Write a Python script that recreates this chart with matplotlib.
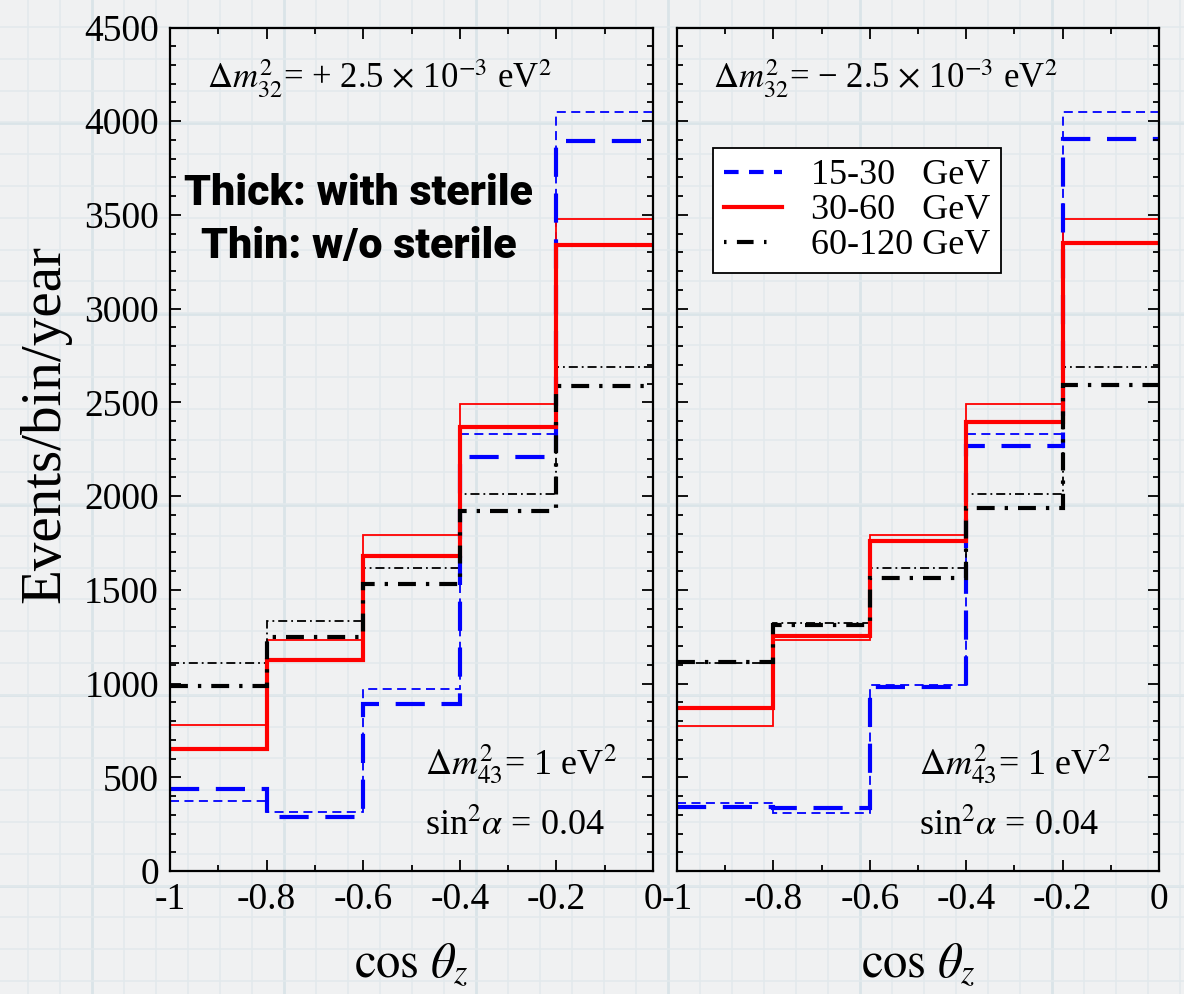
import matplotlib.pyplot as plt
import matplotlib.ticker as mtick
from matplotlib.lines import Line2D

plt.rcParams['font.family'] = ['Liberation Serif', 'DejaVu Serif']
plt.rcParams['mathtext.fontset'] = 'stix'
plt.rcParams['axes.unicode_minus'] = False

# bin edges in cos(theta_z)
edges = [-1.0, -0.8, -0.6, -0.4, -0.2, 0.0]
xtick_vals = [-1.0, -0.8, -0.6, -0.4, -0.2, 0.0]
xtick_labels = ['-1', '-0.8', '-0.6', '-0.4', '-0.2', '0']

# left panel: dm32^2 = +2.5e-3 eV^2 (thick = with sterile, thin = w/o sterile)
nh_15_30_thick = [440, 290, 890, 2210, 3895]
nh_15_30_thin = [375, 315, 970, 2330, 4050]
nh_30_60_thick = [650, 1125, 1680, 2370, 3340]
nh_30_60_thin = [780, 1235, 1795, 2490, 3480]
nh_60_120_thick = [985, 1250, 1530, 1920, 2590]
nh_60_120_thin = [1110, 1335, 1615, 2010, 2690]

# right panel: dm32^2 = -2.5e-3 eV^2
ih_15_30_thick = [340, 335, 980, 2265, 3905]
ih_15_30_thin = [365, 310, 990, 2330, 4050]
ih_30_60_thick = [870, 1255, 1760, 2395, 3350]
ih_30_60_thin = [775, 1232, 1795, 2490, 3480]
ih_60_120_thick = [1115, 1310, 1565, 1935, 2595]
ih_60_120_thin = [1110, 1325, 1615, 2010, 2690]

legend_labels = ['15-30   GeV', '30-60   GeV', '60-120 GeV']

W, H = 1184, 994
fig = plt.figure(figsize=(W / 100, H / 100), dpi=100)
fig.patch.set_facecolor('#f0f1f2')

# graph-paper background
bg = fig.add_axes([0, 0, 1, 1], zorder=-5)
bg.set_xlim(0, W)
bg.set_ylim(H, 0)
bg.set_facecolor('#f0f1f2')
bg.xaxis.set_minor_locator(mtick.MultipleLocator(32, offset=28))
bg.xaxis.set_major_locator(mtick.MultipleLocator(192, offset=92))
bg.yaxis.set_minor_locator(mtick.MultipleLocator(31.8, offset=27))
bg.yaxis.set_major_locator(mtick.MultipleLocator(190.8, offset=123))
bg.grid(which='minor', color='#e2e9ec', lw=1.1)
bg.grid(which='major', color='#dae4e8', lw=2.0)
bg.tick_params(which='both', length=0, labelbottom=False, labelleft=False)
for s in bg.spines.values():
    s.set_visible(False)

ax_l = fig.add_axes([170 / W, 123 / H, 483 / W, 843.5 / H])
ax_r = fig.add_axes([677 / W, 123 / H, 482 / W, 843.5 / H])

thick = dict(lw=3.0)
thin = dict(lw=1.3)
styles = {
    'blue_thick': dict(color='#0000ff', linestyle=(0, (7, 4)), **thick),
    'blue_thin': dict(color='#0000ff', linestyle=(0, (5, 3)), **thin),
    'red_thick': dict(color='#ff0000', linestyle='-', **thick),
    'red_thin': dict(color='#ff0000', linestyle='-', **thin),
    'black_thick': dict(color='black', linestyle=(0, (4.3, 2.4, 0.8, 2.4)), **thick),
    'black_thin': dict(color='black', linestyle=(0, (5, 2.2, 1, 2.2)), **thin),
}

panels = [
    (ax_l, [nh_15_30_thin, nh_30_60_thin, nh_60_120_thin],
     [nh_15_30_thick, nh_30_60_thick, nh_60_120_thick], '+'),
    (ax_r, [ih_15_30_thin, ih_30_60_thin, ih_60_120_thin],
     [ih_15_30_thick, ih_30_60_thick, ih_60_120_thick], '\u2212'),
]

for ax, thins, thicks, sign in panels:
    ax.set_facecolor('none')
    for vals, key in zip(thins, ['blue_thin', 'red_thin', 'black_thin']):
        ax.stairs(vals, edges, baseline=None, **styles[key])
    for vals, key in zip(thicks, ['blue_thick', 'red_thick', 'black_thick']):
        ax.stairs(vals, edges, baseline=None, **styles[key])
    ax.set_xlim(-1, 0)
    ax.set_ylim(0, 4500)
    ax.set_xticks(xtick_vals, xtick_labels)
    ax.xaxis.set_minor_locator(mtick.MultipleLocator(0.1))
    ax.yaxis.set_major_locator(mtick.MultipleLocator(500))
    ax.yaxis.set_minor_locator(mtick.MultipleLocator(100))
    ax.tick_params(which='both', direction='in', top=True, right=True,
                   width=1.3, labelsize=27)
    ax.tick_params(which='major', length=8, pad=8)
    ax.tick_params(which='minor', length=4.5)
    for s in ax.spines.values():
        s.set_linewidth(1.6)
    ax.set_xlabel(r'$\mathrm{cos}\ \theta_z$', fontsize=35, labelpad=18)

    x0 = 0.077 if ax is ax_l else 0.075
    ax.text(x0, 0.928, r'$\Delta m^2_{32}$= ' + sign + r' 2.5 $\times$ 10$^{-3}$ eV$^2$',
            transform=ax.transAxes, fontsize=25, va='baseline')
    x1 = 0.528 if ax is ax_l else 0.502
    ax.text(x1, 0.114, r'$\Delta m^2_{43}$= 1 eV$^2$',
            transform=ax.transAxes, fontsize=26, va='baseline')
    ax.text(x1, 0.043, r'sin$^2\alpha$ = 0.04',
            transform=ax.transAxes, fontsize=26, va='baseline')

ax_r.tick_params(labelleft=False)

note_font = dict(ha='center', va='baseline', fontsize=31, fontweight='heavy',
                 family=['Roboto', 'DejaVu Sans'])
ax_l.text(0.39, 0.79, 'Thick: with sterile', transform=ax_l.transAxes, **note_font)
ax_l.text(0.39, 0.727, 'Thin: w/o sterile', transform=ax_l.transAxes, **note_font)

fig.text(45 / W, 1 - 424 / H, 'Events/bin/year', rotation=90,
         ha='center', va='center', fontsize=41)

handles = [
    Line2D([], [], color='#0000ff', lw=3.0, linestyle=(0, (3.5, 2.5))),
    Line2D([], [], color='#ff0000', lw=3.0),
    Line2D([], [], color='black', lw=3.0, linestyle=(0, (0.6, 2.5, 4, 2.5, 0.6, 6))),
]
leg = ax_r.legend(handles, legend_labels, loc='upper left',
                  bbox_to_anchor=(0.075, 0.857), borderaxespad=0,
                  fontsize=26, fancybox=False, framealpha=1,
                  edgecolor='black', handlelength=1.6, handletextpad=0.8,
                  labelspacing=0.05, borderpad=0.3)
leg.get_frame().set_linewidth(1.3)

fig.savefig('out.png', dpi=100, facecolor=fig.get_facecolor())
